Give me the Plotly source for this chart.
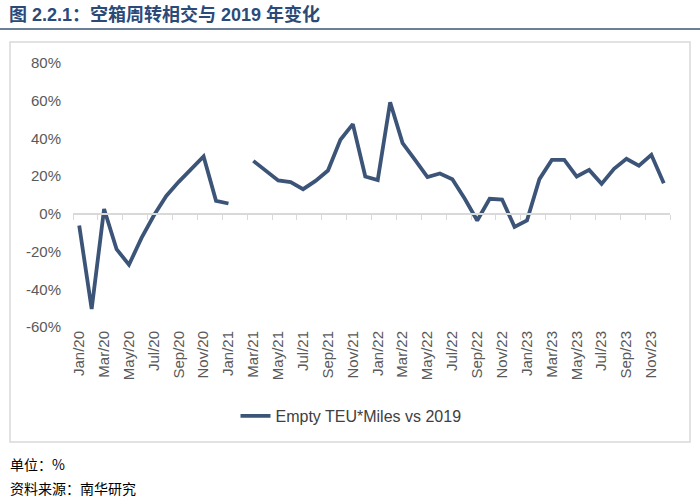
import plotly.graph_objects as go

months = [f"{m}/{y}" for y in ["20", "21", "22", "23"]
          for m in ["Jan", "Feb", "Mar", "Apr", "May", "Jun",
                    "Jul", "Aug", "Sep", "Oct", "Nov", "Dec"]]
values_2020 = [-6.2, -50.5, 2.6, -18.7, -27.0, -12.9, -0.9, 9.5, 17.0, 23.9, 30.4, 6.9]
values_2021 = [5.5, None, 28.1, 22.8, 17.7, 16.8, 13.1, 17.5, 23.0, 39.3, 47.6, 19.8]
values_2022 = [17.9, 59.2, 37.5, 28.6, 19.5, 21.4, 18.4, 8.0, -3.5, 8.0, 7.6, -6.9]
values_2023 = [-3.5, 18.4, 28.6, 28.6, 19.8, 23.3, 15.9, 23.9, 29.2, 25.6, 31.3, 16.2]
values = values_2020 + values_2021 + values_2022 + values_2023
series_name = "Empty TEU*Miles vs 2019"
y_ticks = [-60, -40, -20, 0, 20, 40, 60, 80]
y_tick_text = [f"{v}%" for v in y_ticks]

LINE = "#3B5477"
FONT = "Liberation Sans, Arial, Noto Sans CJK SC, sans-serif"

fig = go.Figure()
fig.add_trace(go.Scatter(x=months, y=values, mode="lines", name=series_name,
                         line=dict(color=LINE, width=3.8), connectgaps=False,
                         xaxis="x", yaxis="y"))
# helper trace for the zero-line axis with tick marks
fig.add_trace(go.Scatter(x=months, y=values, mode="lines", showlegend=False,
                         line=dict(width=0), hoverinfo="skip",
                         xaxis="x2", yaxis="y"))

W, H = 700, 502
ml, mr, mt, mb = 73, 30, 63, 175
pw, ph = W - ml - mr, H - mt - mb

def px(x):
    return (x - ml) / pw

def py(y):
    return (H - mb - y) / ph

fig.update_layout(
    width=W, height=H,
    margin=dict(l=ml, r=mr, t=mt, b=mb),
    paper_bgcolor="white", plot_bgcolor="white",
    font=dict(family=FONT, color="#595959", size=14),
    showlegend=True,
    legend=dict(orientation="h", x=px(351), xanchor="center", y=py(416), yanchor="middle",
                font=dict(size=16, color="#404040"), itemwidth=30),
    xaxis=dict(type="category", categoryorder="array", categoryarray=months,
               range=[-0.5, 47.5], dtick=2, tickangle=-90, showline=False,
               showgrid=False, ticks="", tickfont=dict(size=15, color="#595959")),
    xaxis2=dict(type="category", categoryorder="array", categoryarray=months,
                overlaying="x", anchor="free", position=60 / 140,
                range=[-0.5, 47.5], dtick=2, tickson="boundaries",
                showline=True, linecolor="#D9D9D9", linewidth=1.5,
                ticks="outside", ticklen=5, tickcolor="#D9D9D9", tickwidth=1,
                showticklabels=False, showgrid=False),
    yaxis=dict(range=[-60, 80], tickvals=y_ticks, ticktext=y_tick_text,
               showgrid=False, zeroline=False, showline=False, ticklen=8,
               ticks="outside", tickcolor="rgba(0,0,0,0)",
               tickfont=dict(size=15, color="#595959")),
)

# title
fig.add_annotation(text="<b>图 2.2.1：空箱周转相交与 2019 年变化</b>", xref="paper", yref="paper",
                   x=px(7), y=py(14), xanchor="left", yanchor="middle", showarrow=False,
                   font=dict(size=18, color="#2B4A78", family=FONT))
fig.add_shape(type="line", xref="paper", yref="paper", x0=px(0), x1=px(700),
              y0=py(29), y1=py(29), line=dict(color="#3B5477", width=1.5))
# chart box
fig.add_shape(type="rect", xref="paper", yref="paper", x0=px(10), x1=px(690),
              y0=py(42), y1=py(442), line=dict(color="#D9D9D9", width=1.5))
# footer
fig.add_annotation(text="单位：%", xref="paper", yref="paper", x=px(8), y=py(464),
                   xanchor="left", yanchor="middle", showarrow=False,
                   font=dict(size=14, color="#000000", family="Noto Sans CJK SC"))
fig.add_annotation(text="资料来源：南华研究", xref="paper", yref="paper", x=px(8), y=py(488),
                   xanchor="left", yanchor="middle", showarrow=False,
                   font=dict(size=14, color="#000000", family="Noto Sans CJK SC"))

fig.write_html("out.html", config={"displayModeBar": False},
               post_script="document.body.style.margin='0';")
